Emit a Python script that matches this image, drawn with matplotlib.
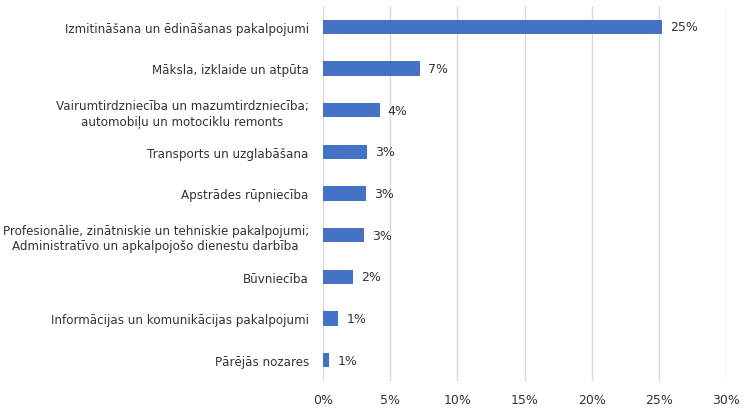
import matplotlib.pyplot as plt
from matplotlib.ticker import FuncFormatter

categories = [
    "Izmitināšana un ēdināšanas pakalpojumi",
    "Māksla, izklaide un atpūta",
    "Vairumtirdzniecība un mazumtirdzniecība;\nautomobiļu un motociklu remonts",
    "Transports un uzglabāšana",
    "Apstrādes rūpniecība",
    "Profesionālie, zinātniskie un tehniskie pakalpojumi;\nAdministratīvo un apkalpojošo dienestu darbība",
    "Būvniecība",
    "Informācijas un komunikācijas pakalpojumi",
    "Pārējās nozares",
]
values = [25.25, 7.23, 4.24, 3.27, 3.22, 3.05, 2.25, 1.16, 0.5]
value_labels = ["25%", "7%", "4%", "3%", "3%", "3%", "2%", "1%", "1%"]
x_ticks = [0, 5, 10, 15, 20, 25, 30]

bar_color = "#4472C4"
text_color = "#333333"
grid_color = "#d9d9d9"
fs = 8.6

fig = plt.figure(figsize=(7.5, 4.1), dpi=100)
ax = fig.add_axes([0.4303, 0.0683, 0.5381, 0.9147])

ypos = list(range(len(categories)))
ax.barh(ypos, values, height=0.35, color=bar_color, zorder=3)

for y, v, lab in zip(ypos, values, value_labels):
    ax.text(v + 0.6, y, lab, va="center", ha="left", fontsize=fs + 0.4, color=text_color)

ax.set_yticks(ypos)
ax.set_yticklabels(categories, fontsize=fs, color=text_color, multialignment="center")
ax.set_ylim(len(categories) - 0.5, -0.5)

ax.set_xlim(0, 30)
ax.set_xticks(x_ticks)
ax.xaxis.set_major_formatter(FuncFormatter(lambda x, _: f"{x:.0f}%"))
ax.tick_params(axis="x", labelsize=fs + 0.4, labelcolor=text_color, length=0, pad=9)
ax.tick_params(axis="y", length=0, pad=10)

ax.grid(axis="x", color=grid_color, linewidth=1, zorder=0)
for s in ax.spines.values():
    s.set_visible(False)

fig.savefig("out.png", dpi=100)
